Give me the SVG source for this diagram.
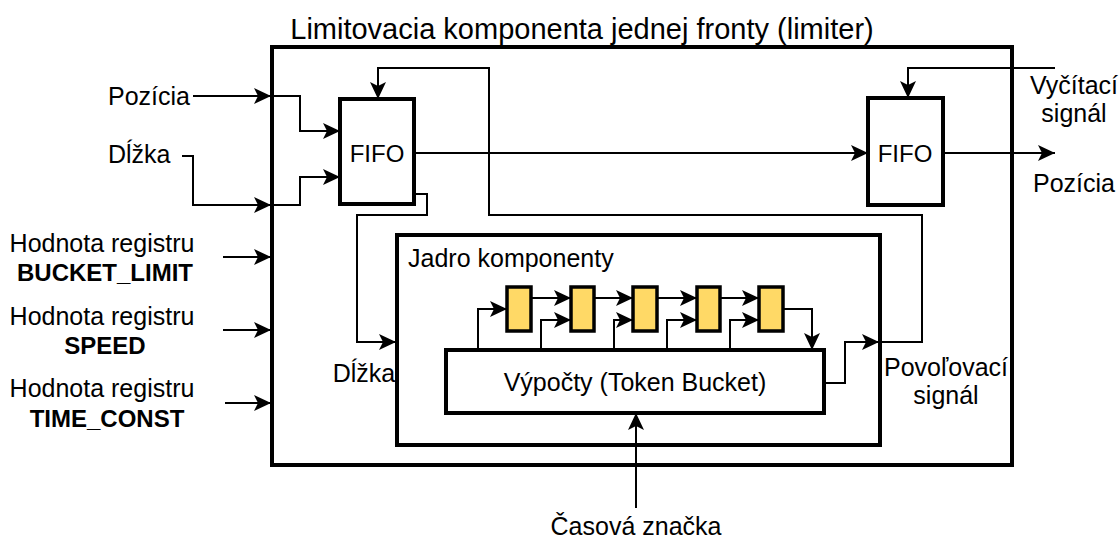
<svg xmlns="http://www.w3.org/2000/svg" width="1120" height="540" viewBox="0 0 1120 540">
<style>
text{font-family:"Liberation Sans",Arial,sans-serif;font-size:25px;fill:#000}
.t{font-size:29px}
.f{font-size:24px}
.b{font-weight:bold;font-size:24px}
.box{fill:#fff;stroke:#000;stroke-width:4}
.reg{fill:#FFD966;stroke:#000;stroke-width:3.5}
.c{fill:none;stroke:#000;stroke-width:2}
.ar{marker-end:url(#a)}
</style>
<defs>
<marker id="a" markerWidth="18" markerHeight="16" refX="17" refY="8" orient="auto" markerUnits="userSpaceOnUse">
<path d="M0,0 L17,8 L0,16 L4,8 Z" fill="#000"/>
</marker>
</defs>
<g id="outer">
<rect class="box" x="272" y="47" width="740" height="418"/>
<text class="t" x="582" y="39" text-anchor="middle">Limitovacia komponenta jednej fronty (limiter)</text>
</g>
<g id="core">
<rect class="box" x="397" y="235" width="483" height="210"/>
<text x="408" y="267">Jadro komponenty</text>
</g>
<g id="connectors">
<path class="c ar" d="M193 96 H271"/>
<path class="c ar" d="M272 96 H300 V131 H340"/>
<path class="c ar" d="M182 156 H193 V205 H271"/>
<path class="c ar" d="M272 205 H300 V177 H340"/>
<path class="c ar" d="M824 383 H845 V342 H879"/>
<path class="c ar" d="M880 342 H922 V215 H489 V68 H378 V99"/>
<path class="c ar" d="M415 194 H427 V215 H357 V342 H396"/>
<path class="c ar" d="M415 153 H868"/>
<path class="c ar" d="M1055 68 H908 V98"/>
<path class="c ar" d="M943 153 H1055"/>
<path class="c ar" d="M223 257 H271"/>
<path class="c ar" d="M223 330 H271"/>
<path class="c ar" d="M225 403 H271"/>
<path class="c ar" d="M636 508 V413"/>
<path class="c ar" d="M478 350 V309 H507"/>
<path class="c ar" d="M531 298 H571"/>
<path class="c ar" d="M594 298 H633"/>
<path class="c ar" d="M657 298 H697"/>
<path class="c ar" d="M720 298 H759"/>
<path class="c ar" d="M541 350 V320 H571"/>
<path class="c ar" d="M614 350 V320 H633"/>
<path class="c ar" d="M667 350 V320 H697"/>
<path class="c ar" d="M730 350 V320 H759"/>
<path class="c ar" d="M783 309 H812 V350"/>
</g>
<g id="fifo1">
<rect class="box" x="340" y="99" width="74" height="105"/>
<text class="f" x="377" y="162" text-anchor="middle">FIFO</text>
</g>
<g id="fifo2">
<rect class="box" x="868" y="98" width="75" height="107"/>
<text class="f" x="905" y="162" text-anchor="middle">FIFO</text>
</g>
<g id="vypocty">
<rect class="box" x="446" y="350" width="378" height="63"/>
<text x="635" y="391" text-anchor="middle">Výpočty (Token Bucket)</text>
</g>
<g id="reg1"><rect class="reg" x="507" y="287" width="24" height="44"/></g>
<g id="reg2"><rect class="reg" x="571" y="287" width="23" height="44"/></g>
<g id="reg3"><rect class="reg" x="633" y="287" width="24" height="44"/></g>
<g id="reg4"><rect class="reg" x="697" y="287" width="23" height="44"/></g>
<g id="reg5"><rect class="reg" x="759" y="287" width="24" height="44"/></g>
<g id="labels">
<text x="108" y="105">Pozícia</text>
<text x="108" y="163">Dĺžka</text>
<text x="102" y="252" text-anchor="middle">Hodnota registru</text>
<text x="105" y="281" text-anchor="middle" class="b">BUCKET_LIMIT</text>
<text x="102" y="325" text-anchor="middle">Hodnota registru</text>
<text x="105" y="354" text-anchor="middle" class="b">SPEED</text>
<text x="102" y="397" text-anchor="middle">Hodnota registru</text>
<text x="107" y="427" text-anchor="middle" class="b">TIME_CONST</text>
<text x="1074" y="94" text-anchor="middle">Vyčítací</text>
<text x="1074" y="122" text-anchor="middle">signál</text>
<text x="1074" y="192" text-anchor="middle">Pozícia</text>
<text x="364" y="382" text-anchor="middle">Dĺžka</text>
<text x="946" y="376" text-anchor="middle">Povoľovací</text>
<text x="946" y="404" text-anchor="middle">signál</text>
<text x="636" y="535" text-anchor="middle">Časová značka</text>
</g>
</svg>
